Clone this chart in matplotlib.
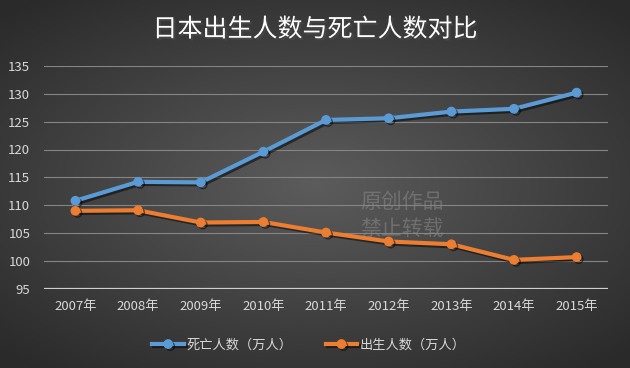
import numpy as np
import matplotlib.pyplot as plt
import matplotlib.patheffects as pe

plt.rcParams['font.family'] = ['Noto Sans CJK SC', 'DejaVu Sans']

years = ['2007年', '2008年', '2009年', '2010年', '2011年', '2012年', '2013年', '2014年', '2015年']
deaths = [110.8, 114.2, 114.1, 119.6, 125.3, 125.6, 126.8, 127.3, 130.2]
births = [109.0, 109.1, 106.9, 107.0, 105.1, 103.5, 103.0, 100.2, 100.7]

fig = plt.figure(figsize=(6.3, 3.68), dpi=100)

# radial gradient background
bg = fig.add_axes([0, 0, 1, 1], zorder=-10)
gx, gy = np.meshgrid(np.linspace(-1, 1, 300), np.linspace(-1, 1, 200))
r = np.sqrt((gx / 1.1) ** 2 + (gy / 1.0) ** 2)
shade = 0.36 - 0.15 * np.clip(r, 0, 1.3)
bg.imshow(np.dstack([shade] * 3), aspect='auto', extent=[0, 1, 0, 1])
bg.axis('off')

ax = fig.add_axes([0.070, 0.215, 0.895, 0.606])
ax.set_facecolor('none')
x = np.arange(len(years))

shadow = [pe.SimpleLineShadow(offset=(1.5, -1.5), alpha=0.5, shadow_color='black'), pe.Normal()]
ax.plot(x, deaths, color='#5b9bd5', lw=3, marker='o', ms=6, label='死亡人数（万人）',
        path_effects=shadow, zorder=4)
ax.plot(x, births, color='#ed7d31', lw=3, marker='o', ms=6, label='出生人数（万人）',
        path_effects=shadow, zorder=4)

ax.set_xlim(-0.5, len(years) - 0.5)
ax.set_ylim(95, 135)
ax.set_yticks(np.arange(95, 136, 5))
ax.set_xticks(x)
ax.set_xticklabels(years)
ax.grid(axis='y', color='#858585', lw=0.8)
ax.axhline(95, color='#cfcfcf', lw=1.6, zorder=3)
for s in ax.spines.values():
    s.set_visible(False)
ax.tick_params(length=0, colors='#d8d8d8', labelsize=9.5)
ax.tick_params(axis='x', pad=8)
ax.tick_params(axis='y', pad=10)

# watermark
fig.text(0.572, 0.415, '原创作品\n禁止转载', color='#8a8a8a', alpha=0.55, fontsize=15,
         ha='left', va='center', linespacing=1.3, zorder=1)

fig.suptitle('日本出生人数与死亡人数对比', color='white', fontsize=18, y=0.955,
             path_effects=[pe.withSimplePatchShadow(offset=(1.5, -1.5), alpha=0.6)])

leg = ax.legend(loc='upper center', bbox_to_anchor=(0.47, -0.17), ncol=2, frameon=False,
                fontsize=9.5, labelcolor='#d8d8d8', handlelength=2.4, handletextpad=0.2,
                columnspacing=2.5)

fig.savefig('out.png', dpi=100)
